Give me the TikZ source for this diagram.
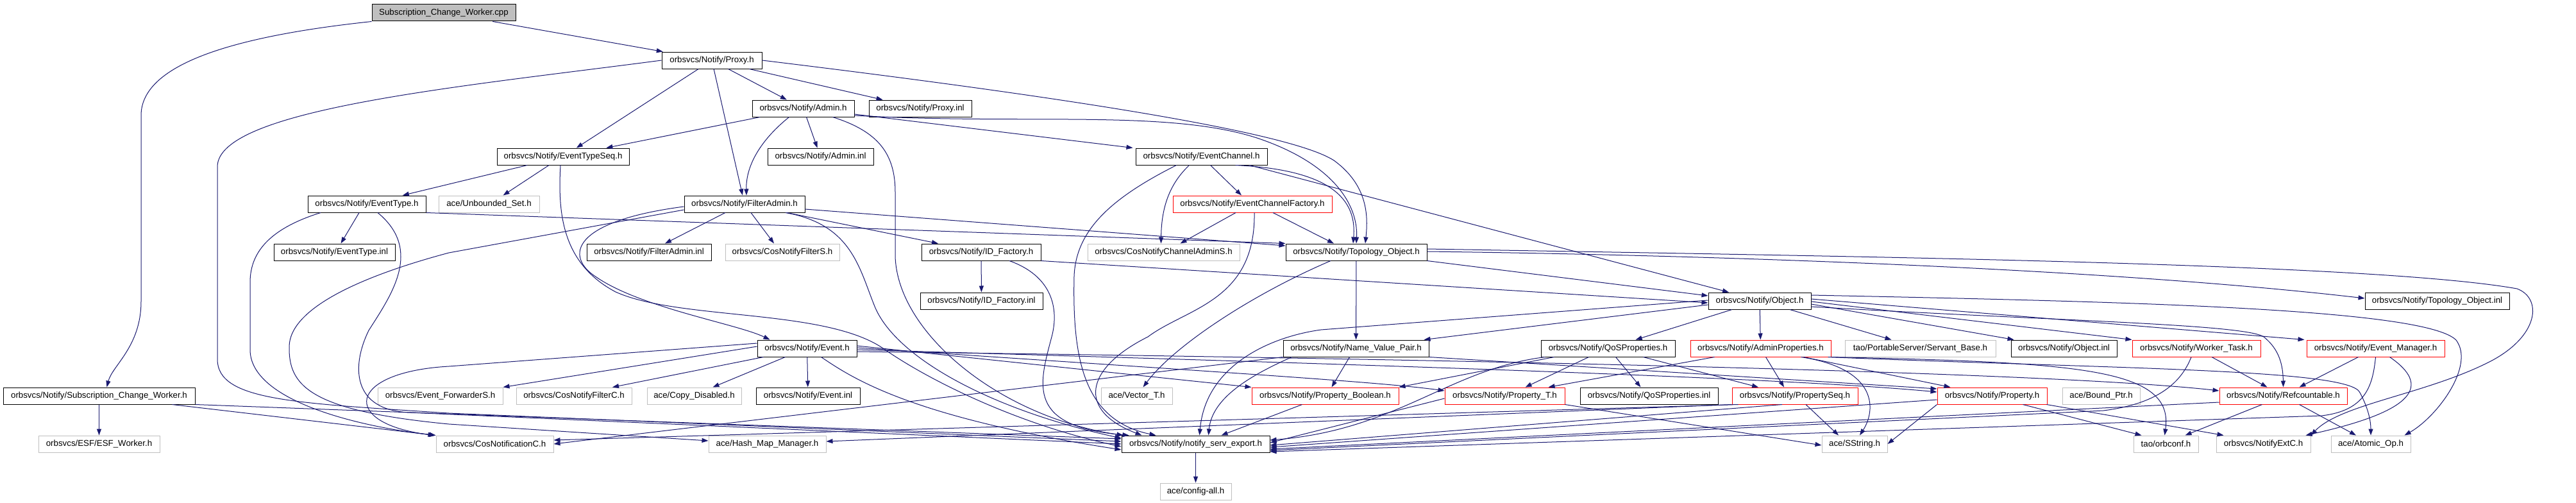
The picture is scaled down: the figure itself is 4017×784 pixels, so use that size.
\documentclass[tikz,border=0pt]{standalone}
\usepackage{fontspec}
\setmainfont{Liberation Sans}
\usetikzlibrary{arrows.meta}
\definecolor{edgec}{HTML}{191970}
\definecolor{grayb}{HTML}{BFBFBF}
\definecolor{redb}{HTML}{FF0000}
\newcommand{\mynd}[6]{\node[#5, minimum width=#4pt] (#1) at (#2,#3) {#6};}
\begin{document}
\begin{tikzpicture}[x=1pt,y=-1pt,
  fb/.style={draw=black, fill=white, line width=1pt, minimum height=26pt, inner sep=0pt, font=\fontsize{13.3}{16}\selectfont},
  fg/.style={fb, draw=grayb},
  fr/.style={fb, draw=redb},
  froot/.style={fb, fill=grayb},
  dep/.style={draw=edgec, line width=1pt, -{Triangle[length=10pt,width=7pt]}}]
\fill[white] (0,0) rectangle (4017,784);
\useasboundingbox (0,0) rectangle (4017,784);
% ---------- nodes ----------
\mynd{cpp}{692}{20}{224}{froot}{Subscription\_Change\_Worker.cpp}
\mynd{proxy}{1110}{94}{156}{fb}{orbsvcs/Notify/Proxy.h}
\mynd{admin}{1252.5}{169}{159}{fb}{orbsvcs/Notify/Admin.h}
\mynd{proxyinl}{1435}{169}{160}{fb}{orbsvcs/Notify/Proxy.inl}
\mynd{etseq}{878}{244}{206}{fb}{orbsvcs/Notify/EventTypeSeq.h}
\mynd{admininl}{1279.5}{244}{165}{fb}{orbsvcs/Notify/Admin.inl}
\mynd{echannel}{1873.5}{244}{205}{fb}{orbsvcs/Notify/EventChannel.h}
\mynd{etype}{572}{318}{184}{fb}{orbsvcs/Notify/EventType.h}
\mynd{unbset}{762.5}{318}{157}{fg}{ace/Unbounded\_Set.h}
\mynd{filteradmin}{1161}{318}{188}{fb}{orbsvcs/Notify/FilterAdmin.h}
\mynd{ecfactory}{1953}{318}{248}{fr}{orbsvcs/Notify/EventChannelFactory.h}
\mynd{etypeinl}{521.5}{393}{189}{fb}{orbsvcs/Notify/EventType.inl}
\mynd{filteradmininl}{1012}{393}{194}{fb}{orbsvcs/Notify/FilterAdmin.inl}
\mynd{cosfilterS}{1220}{393}{178}{fg}{orbsvcs/CosNotifyFilterS.h}
\mynd{idfactory}{1530}{393}{186}{fb}{orbsvcs/Notify/ID\_Factory.h}
\mynd{coschanadminS}{1814.5}{393}{237}{fg}{orbsvcs/CosNotifyChannelAdminS.h}
\mynd{topo}{2115}{393}{220}{fb}{orbsvcs/Notify/Topology\_Object.h}
\mynd{idfactoryinl}{1530.5}{469}{191}{fb}{orbsvcs/Notify/ID\_Factory.inl}
\mynd{object}{2744}{469}{160}{fb}{orbsvcs/Notify/Object.h}
\mynd{topoinl}{3800.5}{469}{225}{fb}{orbsvcs/Notify/Topology\_Object.inl}
\mynd{event}{1258.5}{543}{155}{fb}{orbsvcs/Notify/Event.h}
\mynd{nvp}{2114.5}{543}{227}{fb}{orbsvcs/Notify/Name\_Value\_Pair.h}
\mynd{qosprops}{2507.5}{543}{209}{fb}{orbsvcs/Notify/QoSProperties.h}
\mynd{adminprops}{2745.5}{543}{219}{fr}{orbsvcs/Notify/AdminProperties.h}
\mynd{servantbase}{2994.5}{543}{235}{fg}{tao/PortableServer/Servant\_Base.h}
\mynd{objectinl}{3218.5}{543}{165}{fb}{orbsvcs/Notify/Object.inl}
\mynd{workertask}{3425}{543}{200}{fr}{orbsvcs/Notify/Worker\_Task.h}
\mynd{eventmgr}{3704.5}{543}{215}{fr}{orbsvcs/Notify/Event\_Manager.h}
\mynd{scworker}{154.5}{617}{299}{fb}{orbsvcs/Notify/Subscription\_Change\_Worker.h}
\mynd{evfwdS}{686.5}{617}{195}{fg}{orbsvcs/Event\_ForwarderS.h}
\mynd{cosfilterC}{895}{617}{180}{fg}{orbsvcs/CosNotifyFilterC.h}
\mynd{copydis}{1082.5}{617}{147}{fg}{ace/Copy\_Disabled.h}
\mynd{eventinl}{1260}{617}{162}{fb}{orbsvcs/Notify/Event.inl}
\mynd{vector}{1772.5}{617}{111}{fg}{ace/Vector\_T.h}
\mynd{propbool}{2066.5}{617}{229}{fr}{orbsvcs/Notify/Property\_Boolean.h}
\mynd{propT}{2346.5}{617}{187}{fr}{orbsvcs/Notify/Property\_T.h}
\mynd{qosinl}{2571.5}{617}{215}{fb}{orbsvcs/Notify/QoSProperties.inl}
\mynd{propseq}{2799}{617}{196}{fr}{orbsvcs/Notify/PropertySeq.h}
\mynd{property}{3106.5}{617}{171}{fr}{orbsvcs/Notify/Property.h}
\mynd{boundptr}{3276.5}{617}{121}{fg}{ace/Bound\_Ptr.h}
\mynd{refcount}{3560.5}{617}{199}{fr}{orbsvcs/Notify/Refcountable.h}
\mynd{esfworker}{154.5}{692}{189}{fg}{orbsvcs/ESF/ESF\_Worker.h}
\mynd{cosnotifC}{771.5}{692}{183}{fg}{orbsvcs/CosNotificationC.h}
\mynd{hashmap}{1196.5}{692}{183}{fg}{ace/Hash\_Map\_Manager.h}
\mynd{export}{1864.5}{692}{231}{fb}{orbsvcs/Notify/notify\_serv\_export.h}
\mynd{sstring}{2892}{692}{102}{fg}{ace/SString.h}
\mynd{orbconf}{3377.5}{692}{101}{fg}{tao/orbconf.h}
\mynd{notifyextC}{3529.5}{692}{147}{fg}{orbsvcs/NotifyExtC.h}
\mynd{atomicop}{3697}{692}{124}{fg}{ace/Atomic\_Op.h}
\mynd{configall}{1864.5}{766}{111}{fg}{ace/config-all.h}
% ---------- edges ----------
% cpp
\draw[dep] (cpp) -- (proxy);
\draw[dep] (cpp.south west) .. controls (330,60) and (220,110) .. (220,180) -- (220,470) .. controls (220,540) and (175,570) .. ([xshift=12pt]scworker.north);
% proxy
\draw[dep] (proxy) -- (admin);
\draw[dep] (proxy) -- (proxyinl);
\draw[dep] (proxy) -- (etseq);
\draw[dep] (proxy) -- (filteradmin);
\draw[dep] (proxy.east) .. controls (1650,150) and (2010,205) .. (2080,250) .. controls (2135,290) and (2133,340) .. ([xshift=14pt]topo.north);
\draw[dep] (proxy.west) .. controls (720,135) and (339,170) .. (339,260) -- (339,560) .. controls (339,625) and (460,628) .. (700,644) -- ([yshift=4pt]export.west);
% admin
\draw[dep] (admin) -- (etseq);
\draw[dep] ([xshift=-22pt]admin.south) .. controls (1190,215) and (1163,255) .. ([xshift=3pt]filteradmin.north);
\draw[dep] ([xshift=5pt]admin.south) -- ([xshift=-5pt]admininl.north);
\draw[dep] ([yshift=-9pt]admin.east) -- ([xshift=-4pt]echannel.north west);
\draw[dep] ([yshift=-11pt]admin.east) .. controls (1600,195) and (1820,170) .. (1960,215) .. controls (2080,255) and (2118,320) .. (topo.north);
\draw[dep] ([xshift=46pt]admin.south) .. controls (1370,205) and (1396,240) .. (1396,300) -- (1396,400) .. controls (1400,520) and (1560,650) .. ([xshift=3pt]export.north west);
% EventTypeSeq
\draw[dep] (etseq) -- (etype);
\draw[dep] ([xshift=-22pt]etseq.south) -- ([xshift=22pt]unbset.north);
\draw[dep] ([xshift=-4pt]etseq.south) .. controls (870,330) and (875,410) .. (960,455) .. controls (1060,500) and (1290,480) .. (1380,545) .. controls (1460,600) and (1600,665) .. ([yshift=-4pt]export.west);
% EventChannel
\draw[dep] ([xshift=14pt]echannel.south) -- ([xshift=-17pt]ecfactory.north);
\draw[dep] ([xshift=-19pt]echannel.south) .. controls (1820,290) and (1811,330) .. ([xshift=-4pt]coschanadminS.north);
\draw[dep] ([xshift=53pt]echannel.south) .. controls (2090,265) and (2115,320) .. ([xshift=-5pt]topo.north);
\draw[dep] ([xshift=75pt]echannel.south) -- ([xshift=-48pt]object.north);
\draw[dep] ([xshift=-39pt]echannel.south) .. controls (1730,310) and (1678,360) .. (1675,430) .. controls (1672,560) and (1690,655) .. ([xshift=-62pt]export.north);
% EventType
\draw[dep] ([xshift=-12pt]etype.south) -- ([xshift=10pt]etypeinl.north);
\draw[dep] ([xshift=-72pt]etype.south) .. controls (425,355) and (390,390) .. (390,440) -- (390,545) .. controls (390,625) and (560,665) .. (cosnotifC.north west);
\draw[dep] ([xshift=17pt]etype.south) .. controls (660,390) and (610,460) .. (575,515) .. controls (548,570) and (548,640) .. (640,643) -- (export.west);
\draw[dep] (etype.south east) -- (topo.north west);
% FilterAdmin
\draw[dep] ([xshift=-30pt]filteradmin.south) -- ([xshift=25pt]filteradmininl.north);
\draw[dep] ([xshift=10pt]filteradmin.south) -- ([xshift=-13pt]cosfilterS.north);
\draw[dep] ([xshift=66pt]filteradmin.south) -- ([xshift=-67pt]idfactory.north);
\draw[dep] ([yshift=-8pt]filteradmin.east) -- ([yshift=10pt]topo.west);
\draw[dep] ([yshift=-4pt]filteradmin.west) .. controls (890,345) and (880,400) .. (930,432) .. controls (1000,480) and (1150,505) .. ([xshift=-58pt]event.north);
\draw[dep] ([yshift=-9pt]filteradmin.west) -- (700,394) .. controls (565,430) and (452,480) .. (451,540) .. controls (450,600) and (480,640) .. (700,661) -- ([yshift=5pt]hashmap.west);
\draw[dep] ([xshift=64pt]filteradmin.south) .. controls (1330,350) and (1340,420) .. (1365,480) .. controls (1400,560) and (1550,640) .. ([yshift=9pt]export.west);
% EventChannelFactory
\draw[dep] ([xshift=-26pt]ecfactory.south) -- ([xshift=26pt]coschanadminS.north);
\draw[dep] ([xshift=32pt]ecfactory.south) -- ([xshift=-35pt]topo.north);
\draw[dep] ([xshift=3pt]ecfactory.south) .. controls (1958,470) and (1850,480) .. (1790,525) .. controls (1690,575) and (1680,640) .. ([xshift=-84pt]export.north);
% ID_Factory
\draw[dep] (idfactory) -- (idfactoryinl);
\draw[dep] ([xshift=44pt]idfactory.south) .. controls (1640,430) and (1652,480) .. (1640,525) .. controls (1620,600) and (1600,665) .. ([xshift=12pt]export.north west);
\draw[dep] (idfactory.south east) -- ([yshift=-3pt]object.west);
% Topology_Object
\draw[dep] (topo.south east) -- ([yshift=8pt]object.west);
\draw[dep] (topo) -- (nvp);
\draw[dep] ([yshift=1pt]topo.east) .. controls (2700,398) and (3300,420) .. ([yshift=4pt]topoinl.west);
\draw[dep] ([xshift=-40pt]topo.south) .. controls (1950,460) and (1830,540) .. ([xshift=10pt]vector.north);
\draw[dep] ([yshift=5pt]topo.east) .. controls (2900,400) and (3700,410) .. (3925,450) .. controls (3965,465) and (3960,525) .. (3880,565) .. controls (3780,615) and (3650,630) .. (notifyextC.north east);
% Object
\draw[dep] (object) -- (adminprops);
\draw[dep] (object) -- (qosprops);
\draw[dep] ([xshift=47pt]object.south) -- ([xshift=-45pt]servantbase.north);
\draw[dep] ([yshift=-5pt]object.east) -- ([xshift=-78pt]objectinl.north);
\draw[dep] ([yshift=-1pt]object.east) -- (workertask.north west);
\draw[dep] ([yshift=3pt]object.east) -- ([xshift=-3pt]eventmgr.north west);
\draw[dep] ([yshift=-9pt]object.east) .. controls (3200,500) and (3500,505) .. (3530,525) .. controls (3555,545) and (3560,570) .. (refcount.north);
\draw[dep] ([yshift=9pt]object.east) .. controls (3300,470) and (3780,480) .. (3830,530) .. controls (3860,570) and (3800,650) .. ([xshift=-10pt]atomicop.north east);
\draw[dep] ([yshift=-6pt]object.west) -- ([xshift=-8pt]nvp.north east);
\draw[dep] ([yshift=1pt]object.west) -- (2060,514) .. controls (1980,525) and (1880,570) .. ([xshift=6pt]export.north);
% Event
\draw[dep] ([yshift=3pt]event.west) -- (evfwdS.north east);
\draw[dep] ([xshift=-68pt]event.south) -- ([xshift=60pt]cosfilterC.north);
\draw[dep] ([xshift=-34pt]event.south) -- ([xshift=29pt]copydis.north);
\draw[dep] (event) -- (eventinl);
\draw[dep] ([yshift=8pt]event.west) -- (700,571) .. controls (540,580) and (530,660) .. ([xshift=-2pt]cosnotifC.north west);
\draw[dep] ([xshift=22pt]event.south) .. controls (1330,590) and (1420,650) .. ([yshift=-9pt]export.west);
\draw[dep] ([yshift=4pt]event.east) -- (propbool.north west);
\draw[dep] ([yshift=1pt]event.east) .. controls (1900,580) and (2150,595) .. ([yshift=8pt]propT.west);
\draw[dep] ([yshift=-2pt]event.east) .. controls (2200,570) and (2800,590) .. ([yshift=6pt]property.west);
\draw[dep] ([yshift=-5pt]event.east) .. controls (2300,560) and (3200,580) .. ([yshift=8pt]refcount.west);
% Name_Value_Pair
\draw[dep] ([xshift=-10pt]nvp.south) -- ([xshift=10pt]propbool.north);
\draw[dep] (nvp.south east) -- ([yshift=11pt]property.west);
\draw[dep] ([xshift=-100pt]nvp.south) .. controls (1950,585) and (1890,620) .. ([xshift=20pt]export.north);
\draw[dep] (nvp.south west) -- (cosnotifC.east);
% QoSProperties
\draw[dep] ([xshift=-30pt]qosprops.south) -- ([xshift=32pt]propT.north);
\draw[dep] ([xshift=12pt]qosprops.south) -- ([xshift=-13pt]qosinl.north);
\draw[dep] ([xshift=-84pt]qosprops.south) -- (propbool.north east);
\draw[dep] ([xshift=55pt]qosprops.south) -- ([xshift=-57pt]propseq.north);
\draw[dep] ([xshift=-98pt]qosprops.south) .. controls (2260,575) and (2180,670) .. ([yshift=6pt]export.east);
% AdminProperties
\draw[dep] ([xshift=8pt]adminprops.south) -- ([xshift=-17pt]propseq.north);
\draw[dep] ([xshift=67pt]adminprops.south) -- ([xshift=-65pt]property.north);
\draw[dep] ([xshift=-72pt]adminprops.south) -- ([xshift=68pt]propT.north);
\draw[dep] ([xshift=63pt]adminprops.south) .. controls (2930,575) and (2925,640) .. ([xshift=8pt]sstring.north);
\draw[dep] (adminprops.south east) .. controls (3250,565) and (3390,575) .. ([xshift=-2pt]orbconf.north);
\draw[dep] ([xshift=-5pt]adminprops.south east) .. controls (3300,575) and (3665,575) .. (3680,612) .. controls (3695,640) and (3697,660) .. (atomicop.north);
% PropertySeq
\draw[dep] ([xshift=17pt]propseq.south) -- ([xshift=-25pt]sstring.north);
\draw[dep] (propseq.south west) -- ([yshift=4pt]hashmap.east);
\draw[dep] ([xshift=10pt]propseq.south west) -- ([yshift=6pt]cosnotifC.east);
\draw[dep] ([xshift=-20pt]propseq.south) -- ([yshift=-2pt]export.east);
% Property
\draw[dep] ([xshift=48pt]property.south) -- ([xshift=-38pt]orbconf.north);
\draw[dep] ([xshift=85pt]property.south) -- ([xshift=-62pt]notifyextC.north);
\draw[dep] (property.south west) -- (sstring.east);
\draw[dep] ([yshift=-6pt]property.west) -- ([yshift=-5pt]export.east);
% Property_Boolean, Property_T
\draw[dep] ([xshift=-36pt]propbool.south) -- ([xshift=40pt]export.north);
\draw[dep] ([yshift=-4pt]propT.west) -- ([yshift=2pt]export.east);
\draw[dep] (propT.south east) -- ([yshift=-2pt]sstring.west);
% Refcountable
\draw[dep] ([xshift=-33pt]refcount.south) -- ([xshift=30pt]orbconf.north);
\draw[dep] ([xshift=25pt]refcount.south) -- ([xshift=-23pt]atomicop.north);
\draw[dep] ([yshift=-10pt]refcount.west) -- ([yshift=-8pt]export.east);
% Worker_Task
\draw[dep] ([xshift=24pt]workertask.south) -- ([xshift=-25pt]refcount.north);
\draw[dep] ([xshift=-8pt]workertask.south) .. controls (3400,600) and (3360,630) .. (3280,640) -- ([yshift=-10pt]export.east);
% Event_Manager
\draw[dep] ([xshift=-27pt]eventmgr.south) -- ([xshift=25pt]refcount.north);
\draw[dep] (eventmgr.south) .. controls (3700,600) and (3690,640) .. (3620,648) -- ([yshift=-12pt]export.east);
\draw[dep] ([xshift=22pt]eventmgr.south) .. controls (3790,600) and (3770,640) .. ([xshift=-8pt]notifyextC.north east);
% Subscription_Change_Worker.h
\draw[dep] (scworker) -- (esfworker);
\draw[dep] ([xshift=114pt]scworker.south) -- (cosnotifC.north west);
\draw[dep] (scworker.south east) -- ([yshift=8pt]export.west);
% export
\draw[dep] (export) -- (configall);
\end{tikzpicture}
\end{document}
